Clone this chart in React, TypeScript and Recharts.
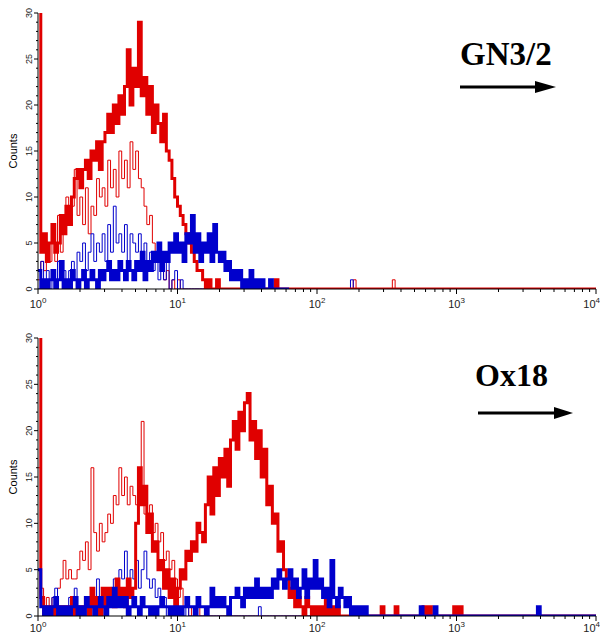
import React from "react";
import { LineChart, Line, XAxis, YAxis } from "recharts";

// x is in decades (10^0 .. 10^4); each channel is 0.02 decade wide
const BIN_WIDTH = 0.02;
const CHANNELS = 200;

// GN3/2 panel
const gnThickRed = [34, 4, 6, 3, 5, 7, 4, 5, 8, 6, 9, 7, 10, 12, 13, 11, 13, 14, 12, 15, 14, 16, 13, 16, 17, 19, 17, 20, 18, 21, 19, 22, 26, 20, 24, 22, 29, 21, 23, 19, 22, 17, 20, 18, 16, 19, 15, 14, 12, 10, 9, 8, 7, 6, 5, 4, 3, 2, 2, 1, 0, 1, 0, 0, 1];
const gnThickRedTail: [number, number][] = [[85, 1]];
const gnThinRed = [1, 3, 2, 4, 3, 5, 3, 8, 4, 6, 10, 7, 9, 13, 8, 10, 7, 11, 6, 9, 8, 12, 10, 11, 9, 14, 11, 13, 10, 15, 12, 14, 11, 16, 13, 15, 12, 11, 9, 7, 8, 5, 4, 3, 2, 1, 2, 0, 1, 0, 1];
const gnThinRedTail: [number, number][] = [[113, 1], [127, 1]];
const gnThickBlue = [2, 0, 1, 0, 1, 2, 0, 1, 3, 0, 1, 0, 2, 1, 0, 1, 2, 0, 1, 2, 1, 0, 2, 1, 2, 3, 1, 2, 1, 3, 2, 1, 3, 2, 1, 3, 2, 4, 1, 3, 2, 4, 3, 5, 2, 4, 3, 5, 4, 6, 4, 5, 3, 6, 5, 8, 4, 6, 3, 5, 4, 6, 3, 7, 4, 3, 4, 2, 3, 1, 2, 1, 2, 0, 1, 0, 2, 0, 1, 0, 1, 0, 0, 1, 0];
const gnThinBlue = [0, 3, 1, 2, 0, 2, 1, 3, 1, 2, 0, 2, 3, 1, 4, 3, 5, 2, 4, 6, 3, 5, 4, 6, 3, 7, 4, 9, 5, 6, 4, 7, 3, 6, 5, 4, 6, 3, 5, 2, 4, 2, 3, 1, 2, 1, 3, 0, 1, 2, 0, 1, 0];
const gnThinBlueTail: [number, number][] = [[112, 1]];

// Ox18 panel
const oxThickRed = [34, 2, 0, 1, 0, 1, 0, 0, 1, 0, 1, 0, 2, 0, 1, 0, 1, 2, 0, 3, 1, 2, 0, 3, 1, 3, 2, 1, 4, 2, 3, 1, 4, 2, 3, 10, 16, 12, 14, 9, 11, 7, 8, 5, 6, 3, 5, 2, 4, 1, 3, 5, 4, 7, 6, 8, 7, 10, 9, 8, 12, 15, 11, 16, 13, 17, 15, 18, 14, 19, 21, 18, 22, 20, 23, 24, 19, 21, 17, 20, 15, 18, 12, 14, 10, 11, 7, 8, 5, 4, 2, 3, 1, 2, 1, 0, 2, 1, 0, 1, 0, 1, 0, 2, 0, 1, 0, 1, 0, 0];
const oxThickRedTail: [number, number][] = [[123, 1], [128, 1], [138, 1], [140, 1], [149, 1], [151, 1]];
const oxThinRed = [16, 3, 1, 2, 0, 2, 1, 3, 4, 6, 4, 5, 4, 4, 5, 7, 6, 8, 5, 16, 9, 7, 10, 8, 9, 11, 10, 13, 12, 16, 13, 15, 12, 14, 13, 12, 14, 21, 11, 10, 12, 9, 10, 8, 9, 6, 7, 5, 6, 4, 2, 3, 1, 2, 0, 1, 0, 1];
const oxThickBlue = [5, 1, 0, 1, 0, 1, 2, 0, 1, 0, 1, 0, 1, 2, 0, 1, 0, 2, 1, 1, 0, 1, 2, 1, 0, 2, 1, 3, 1, 2, 1, 2, 0, 1, 2, 1, 0, 2, 1, 1, 0, 1, 0, 1, 2, 1, 1, 0, 1, 0, 1, 0, 1, 2, 1, 1, 0, 2, 1, 1, 0, 1, 3, 1, 2, 1, 2, 1, 0, 2, 2, 3, 2, 1, 3, 2, 3, 2, 4, 2, 3, 2, 3, 2, 4, 3, 5, 4, 3, 4, 5, 3, 4, 2, 3, 5, 2, 4, 3, 6, 3, 4, 2, 3, 1, 6, 2, 1, 3, 2, 1, 2, 0, 1, 0, 1, 0, 1, 0, 0];
const oxThickBlueTail: [number, number][] = [[137, 1], [142, 1], [179, 1]];
const oxThinBlue = [5, 1, 0, 1, 0, 2, 3, 1, 0, 1, 0, 2, 1, 3, 1, 0, 1, 2, 1, 3, 2, 4, 1, 3, 2, 3, 2, 4, 3, 5, 4, 7, 3, 5, 4, 6, 3, 5, 7, 4, 3, 4, 2, 3, 1, 2, 0, 1, 1, 0, 1, 0, 0, 1, 0];
const oxThinBlueTail: [number, number][] = [[79, 1]];

const DECADES = [0, 1, 2, 3, 4];
const MINOR_STEPS = [2, 3, 4, 5, 6, 7, 8, 9];
const Y_TICKS = Array.from({ length: 31 }, (_, i) => i);

const RED = "#e00000";
const BLUE = "#0000cc";
const FONT = "'Liberation Sans', Arial, sans-serif";

const xTicks = [
  ...DECADES,
  ...DECADES.slice(0, 4).flatMap((d) => MINOR_STEPS.map((m) => d + Math.log10(m))),
].sort((a, b) => a - b);

function channels(head: number[], tail: [number, number][] = [], last = CHANNELS) {
  const out: (number | null)[] = [];
  for (let i = 0; i <= CHANNELS; i++) out.push(i > last ? null : head[i] ?? 0);
  tail.forEach(([c, v]) => (out[c] = v));
  return out;
}

function buildRows(series: Record<string, (number | null)[]>) {
  const rows = [];
  for (let i = 0; i <= CHANNELS; i++) {
    const row: Record<string, number | null> = { x: i * BIN_WIDTH };
    Object.keys(series).forEach((k) => (row[k] = series[k][i]));
    rows.push(row);
  }
  return rows;
}

const gnData = buildRows({
  thinRed: channels(gnThinRed, gnThinRedTail),
  thinBlue: channels(gnThinBlue, gnThinBlueTail),
  thickRed: channels(gnThickRed, gnThickRedTail),
  thickBlue: channels(gnThickBlue, [], 90),
});

const oxData = buildRows({
  thinRed: channels(oxThinRed),
  thinBlue: channels(oxThinBlue, oxThinBlueTail),
  thickRed: channels(oxThickRed, oxThickRedTail),
  thickBlue: channels(oxThickBlue, oxThickBlueTail),
});

const XTick = (props: any) => {
  const { x, y, payload, labelDy } = props;
  const v = payload.value as number;
  const major = Math.abs(v - Math.round(v)) < 1e-6;
  const last = Math.round(v) === 4;
  return (
    <g>
      <line x1={x} x2={x} y1={y} y2={y + (major ? 5 : 3)} stroke="#000" />
      {major && (
        <text
          x={last ? x + 4 : x}
          y={y + labelDy}
          textAnchor={last ? "end" : "middle"}
          fontSize={11}
          fill="#222"
          fontFamily={FONT}
        >
          10
          <tspan dy={-5} fontSize={8}>
            {Math.round(v)}
          </tspan>
        </text>
      )}
    </g>
  );
};

const YTick = (props: any) => {
  const { x, y, payload } = props;
  const v = payload.value as number;
  const major = v % 5 === 0;
  return (
    <g>
      <line x1={x - (major ? 4 : 2)} x2={x} y1={y} y2={y} stroke="#000" />
      {major && (
        <text
          x={x - 6}
          y={y}
          transform={`rotate(-90 ${x - 6} ${y})`}
          textAnchor="middle"
          fontSize={9}
          fill="#222"
          fontFamily={FONT}
        >
          {v}
        </text>
      )}
    </g>
  );
};

const CountsLabel = (props: any) => {
  const vb = props.viewBox || {};
  const cy = (vb.y ?? 0) + (vb.height ?? 0) / 2;
  return (
    <text
      x={17}
      y={cy}
      transform={`rotate(-90 17 ${cy})`}
      textAnchor="middle"
      fontSize={11}
      fill="#000"
      fontFamily={FONT}
    >
      Counts
    </text>
  );
};

function Histogram({
  data,
  height,
  top,
  axisHeight,
  labelDy,
}: {
  data: any[];
  height: number;
  top: number;
  axisHeight: number;
  labelDy: number;
}) {
  return (
    <LineChart width={600} height={height} data={data} margin={{ top, right: 4, bottom: 0, left: 0 }}>
      <XAxis
        dataKey="x"
        type="number"
        domain={[0, 4]}
        ticks={xTicks}
        interval={0}
        allowDataOverflow
        height={axisHeight}
        tickSize={0}
        tickMargin={0}
        tick={<XTick labelDy={labelDy} />}
        axisLine={{ stroke: "#000" }}
      />
      <XAxis
        xAxisId="top"
        orientation="top"
        type="number"
        domain={[0, 4]}
        height={0}
        tick={false}
        tickLine={false}
        axisLine={{ stroke: "#444" }}
      />
      <YAxis
        type="number"
        domain={[0, 30]}
        ticks={Y_TICKS}
        interval={0}
        allowDataOverflow
        width={38}
        tickSize={0}
        tickMargin={0}
        tick={<YTick />}
        axisLine={{ stroke: "#000" }}
        label={<CountsLabel />}
      />
      <YAxis
        yAxisId="right"
        orientation="right"
        type="number"
        domain={[0, 30]}
        width={0}
        tick={false}
        tickLine={false}
        axisLine={{ stroke: "#888" }}
      />
      <Line type="stepAfter" dataKey="thinRed" stroke={RED} strokeWidth={1} dot={false} activeDot={false} isAnimationActive={false} />
      <Line type="stepAfter" dataKey="thinBlue" stroke={BLUE} strokeWidth={1} dot={false} activeDot={false} isAnimationActive={false} />
      <Line type="stepAfter" dataKey="thickRed" stroke={RED} strokeWidth={3} dot={false} activeDot={false} isAnimationActive={false} />
      <Line type="stepAfter" dataKey="thickBlue" stroke={BLUE} strokeWidth={3} dot={false} activeDot={false} isAnimationActive={false} />
    </LineChart>
  );
}

export default function App() {
  return (
    <div style={{ position: "absolute", left: 0, top: 0, width: 600, height: 634, overflow: "hidden", background: "#fff" }}>
      <div style={{ position: "absolute", left: 0, top: 0 }}>
        <Histogram data={gnData} height={317} top={13} axisHeight={28} labelDy={19} />
      </div>
      <div style={{ position: "absolute", left: 0, top: 317 }}>
        <Histogram data={oxData} height={320} top={21} axisHeight={21} labelDy={16} />
      </div>
      <svg width={600} height={634} style={{ position: "absolute", left: 0, top: 0, pointerEvents: "none" }}>
        <text x={460} y={65} fontSize={33} fontWeight="bold" fontFamily="'Liberation Serif', 'Times New Roman', serif" fill="#000">
          GN3/2
        </text>
        <line x1={460} x2={540} y1={87} y2={87} stroke="#000" strokeWidth={3} />
        <polygon points="535,81 556,87 535,93" fill="#000" />
        <text x={475} y={386} fontSize={32} fontWeight="bold" fontFamily="'Liberation Serif', 'Times New Roman', serif" fill="#000">
          Ox18
        </text>
        <line x1={478} x2={558} y1={413} y2={413} stroke="#000" strokeWidth={3} />
        <polygon points="554,407 573,413 554,419" fill="#000" />
      </svg>
    </div>
  );
}
